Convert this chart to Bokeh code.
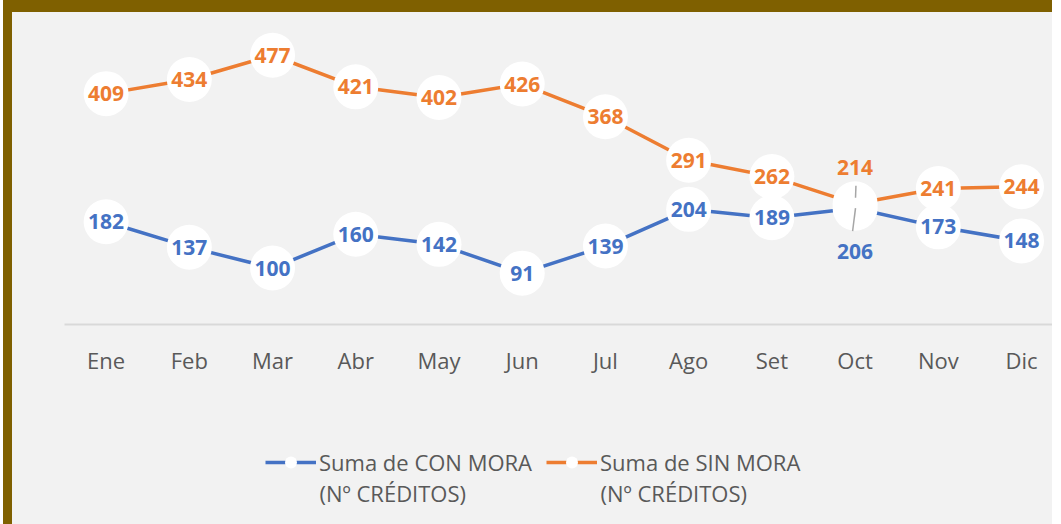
from bokeh.plotting import figure
from bokeh.layouts import column
from bokeh.models import Range1d, FixedTicker, Legend, LegendItem, ColumnDataSource, Label
from bokeh.core.properties import value
from bokeh.embed import file_html
from bokeh.resources import INLINE

months = ["Ene", "Feb", "Mar", "Abr", "May", "Jun", "Jul", "Ago", "Set", "Oct", "Nov", "Dic"]
con_mora = [182, 137, 100, 160, 142, 91, 139, 204, 189, 206, 173, 148]
sin_mora = [409, 434, 477, 421, 402, 426, 368, 291, 262, 214, 241, 244]
label_con = "Suma de CON MORA"
label_sin = "Suma de SIN MORA"
label_unit = "(Nº CRÉDITOS)"

BLUE = "#4472C4"
ORANGE = "#ED7D31"
BG = "#F2F2F2"
FRAME = "#7F6000"
TXT = "#595959"
LEADER = "#A6A6A6"
FONT = "Open Sans"

xs = list(range(len(months)))
Y_MAX = 535
FRAME_TOP, FRAME_BOTTOM = 10, 76
P_HEIGHT = 388
px_per_unit = (P_HEIGHT - FRAME_TOP - FRAME_BOTTOM) / Y_MAX

# label offsets (pixels) for the crowded October point
OCT = 9
off_con = [0] * len(months)
off_sin = [0] * len(months)
off_con[OCT] = 43
off_sin[OCT] = -36

src_con = ColumnDataSource(dict(x=xs, y=con_mora, t=[str(v) for v in con_mora], off=off_con))
src_sin = ColumnDataSource(dict(x=xs, y=sin_mora, t=[str(v) for v in sin_mora], off=off_sin))

p = figure(width=1049, height=P_HEIGHT, output_backend="svg", toolbar_location=None,
           x_range=Range1d(-0.5, 11.48), y_range=Range1d(0, Y_MAX),
           y_axis_location=None,
           min_border_left=52, min_border_right=0, min_border_top=FRAME_TOP,
           min_border_bottom=FRAME_BOTTOM,
           background_fill_color=None, border_fill_color=None, outline_line_color=None,
           styles={"margin-left": "3px", "background-color": BG,
                   "border-left": "9px solid " + FRAME, "border-top": "12px solid " + FRAME})
p.grid.visible = False

p.line("x", "y", source=src_con, line_color=BLUE, line_width=3.5)
p.line("x", "y", source=src_sin, line_color=ORANGE, line_width=3.5)
p.scatter("x", "y", source=src_con, size=45, fill_color="white", line_color=None)
p.scatter("x", "y", source=src_sin, size=45, fill_color="white", line_color=None)

# leader lines from the moved October labels towards their points
p.segment(x0=[xs[OCT] + 0.01, xs[OCT] + 0.005], x1=[xs[OCT] + 0.005, xs[OCT] - 0.03],
          y0=[sin_mora[OCT] + 18 / px_per_unit, con_mora[OCT]],
          y1=[sin_mora[OCT] + 6 / px_per_unit, con_mora[OCT] - 23 / px_per_unit],
          line_color=LEADER, line_width=1.5)

for src, col in ((src_con, BLUE), (src_sin, ORANGE)):
    p.text("x", "y", text="t", source=src, y_offset="off", text_color=col,
           text_font=value(FONT), text_font_style="bold", text_font_size="21px",
           text_align="center", text_baseline="middle")

ax = p.xaxis[0]
ax.ticker = FixedTicker(ticks=xs)
ax.major_label_overrides = {i: m for i, m in enumerate(months)}
ax.major_tick_line_color = None
ax.minor_tick_line_color = None
ax.axis_line_color = "#D9D9D9"
ax.axis_line_width = 2
ax.major_label_text_font = FONT
ax.major_label_text_font_size = "22px"
ax.major_label_text_color = TXT
ax.major_label_standoff = 14

# legend strip: same series, ranges chosen so that only the legend shows (1 unit = 1 px)
q = figure(width=1049, height=136, output_backend="svg", toolbar_location=None,
           x_range=Range1d(0, 997), y_range=Range1d(-136, 0),
           x_axis_location=None, y_axis_location=None,
           min_border=0, background_fill_color=None, border_fill_color=None, outline_line_color=None,
           styles={"margin-left": "3px", "background-color": BG,
                   "border-left": "9px solid " + FRAME})
q.grid.visible = False
lq_con = q.line("x", "y", source=src_con, line_color=BLUE, line_width=3.5)
mq_con = q.scatter("x", "y", source=src_con, size=45, fill_color="white", line_color=None)
lq_sin = q.line("x", "y", source=src_sin, line_color=ORANGE, line_width=3.5)
mq_sin = q.scatter("x", "y", source=src_sin, size=45, fill_color="white", line_color=None)

legend = Legend(items=[LegendItem(label=label_con, renderers=[lq_con, mq_con]),
                       LegendItem(label=label_sin, renderers=[lq_sin, mq_sin])],
                orientation="horizontal", location=(201, 47),
                glyph_width=51, glyph_height=30, label_standoff=3, spacing=14,
                padding=0, margin=0, border_line_color=None, background_fill_alpha=0,
                label_text_font=FONT, label_text_font_size="22px", label_text_color=TXT,
                label_height=30)
q.add_layout(legend, "center")

for lx in (255, 536):
    q.add_layout(Label(x=lx, y=-104, text=label_unit, text_font=FONT, text_font_size="22px",
                       text_color=TXT, text_baseline="middle"))

open("out.html", "w").write(file_html(column(p, q, spacing=0), INLINE))
